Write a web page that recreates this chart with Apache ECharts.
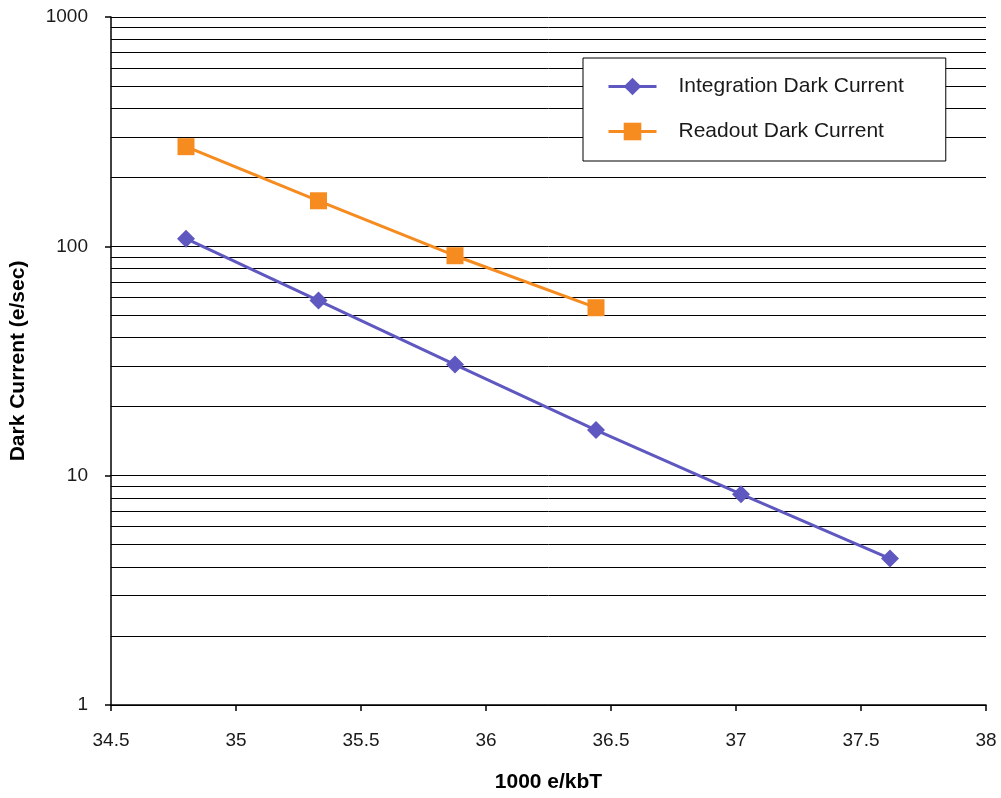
<!DOCTYPE html>
<html>
<head>
<meta charset="utf-8">
<script src="https://cdn.jsdelivr.net/npm/echarts@6/dist/echarts.min.js"></script>
<style>html,body{margin:0;padding:0;background:#fff}#c{width:1001px;height:798px}</style>
</head>
<body>
<div id="c"></div>
<script>
const integrationX = [34.80, 35.33, 35.876, 36.44, 37.02, 37.616];
const integrationY = [108, 58, 30.5, 15.8, 8.3, 4.35];
const readoutX = [34.80, 35.33, 35.876, 36.44];
const readoutY = [272, 158, 91, 54];
const xTicks = [34.5, 35, 35.5, 36, 36.5, 37, 37.5, 38];
const yTicks = [1, 10, 100, 1000];
const minorGrid = [2,3,4,5,6,7,8,9,20,30,40,50,60,70,80,90,200,300,400,500,600,700,800,900];

const FONT = '"Liberation Sans", Arial, Helvetica, sans-serif';
const chart = echarts.init(document.getElementById('c'));
chart.setOption({
  animation: false,
  backgroundColor: '#fff',
  grid: { left: 111, right: 15, top: 17, bottom: 93, containLabel: false },
  legend: {
    orient: 'vertical', left: 583, top: 58,
    padding: [18, 42, 19, 24],
    itemWidth: 48, itemHeight: 22, itemGap: 24,
    borderColor: '#000', borderWidth: 1, backgroundColor: '#fff',
    lineStyle: { width: 3 },
    textStyle: { fontFamily: FONT, fontSize: 21, color: '#1a1a1a', padding: [0,0,0,17] },
    data: ['Integration Dark Current', 'Readout Dark Current']
  },
  xAxis: {
    type: 'value', min: 34.5, max: 38, interval: 0.5,
    name: '1000 e/kbT', nameLocation: 'middle', nameGap: 67,
    nameTextStyle: { fontFamily: FONT, fontSize: 21, fontWeight: 'bold', color: '#000' },
    axisLine: { lineStyle: { color: '#000', width: 1.5 } },
    axisTick: { show: true, length: 6, lineStyle: { color: '#000', width: 1.5 } },
    axisLabel: { fontFamily: FONT, fontSize: 19, color: '#1a1a1a', margin: 26,
      formatter: v => xTicks.includes(v) ? String(v) : '' },
    splitLine: { show: false }
  },
  yAxis: {
    type: 'log', logBase: 10, min: 1, max: 1000,
    name: 'Dark Current (e/sec)', nameLocation: 'middle', nameGap: 82,
    nameTextStyle: { fontFamily: FONT, fontSize: 21, fontWeight: 'bold', color: '#000' },
    axisLine: { show: true, lineStyle: { color: '#000', width: 1.5 } },
    axisTick: { show: true, length: 6, lineStyle: { color: '#000', width: 1.5 } },
    axisLabel: { fontFamily: FONT, fontSize: 19, color: '#1a1a1a', margin: 23,
      formatter: v => yTicks.includes(Math.round(v)) ? String(Math.round(v)) : '' },
    splitLine: { show: true, lineStyle: { color: '#000', width: 1 } }
  },
  series: [
    {
      name: 'Integration Dark Current', type: 'line',
      data: integrationX.map((x, i) => [x, integrationY[i]]),
      symbol: 'diamond', symbolSize: 18,
      itemStyle: { color: '#5f58c0' },
      lineStyle: { color: '#5f58c0', width: 3 },
      z: 5,
      markLine: {
        silent: true, symbol: 'none', label: { show: false },
        lineStyle: { color: '#000', width: 1, type: 'solid' },
        data: minorGrid.map(v => ({ yAxis: v })),
        z: 1
      }
    },
    {
      name: 'Readout Dark Current', type: 'line',
      data: readoutX.map((x, i) => [x, readoutY[i]]),
      symbol: 'rect', symbolSize: 17,
      itemStyle: { color: '#f68b1f' },
      lineStyle: { color: '#f68b1f', width: 3 },
      z: 5
    }
  ]
});
</script>
</body>
</html>
